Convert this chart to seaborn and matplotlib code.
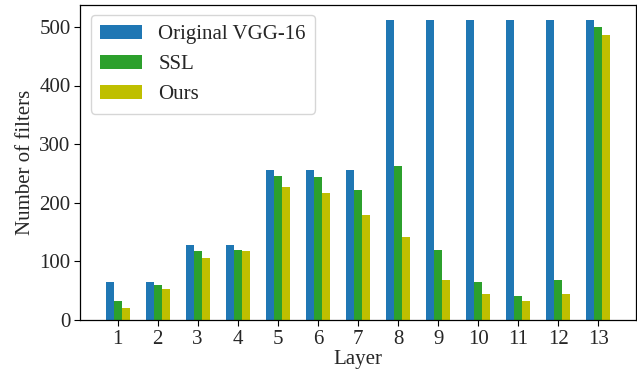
import numpy as np
import pandas as pd
import matplotlib
matplotlib.use("Agg")
import matplotlib.pyplot as plt
import seaborn as sns

# ── Datos ─────────────────────────────────────────────────────────────────────
capas = [str(i) for i in range(1, 14)]
original_vgg16 = [64, 64, 128, 128, 256, 256, 256, 512, 512, 512, 512, 512, 512]
ssl = [32, 60, 117, 120, 246, 243, 222, 263, 120, 65, 41, 68, 500]
ours = [21, 53, 105, 118, 226, 216, 179, 142, 68, 44, 32, 44, 486]
series = ["Original VGG-16", "SSL", "Ours"]

PAL = {"Original VGG-16": "#1f77b4", "SSL": "#2ca02c", "Ours": "#bfbf00"}

df = pd.DataFrame({
    "Layer": capas * 3,
    "filters": original_vgg16 + ssl + ours,
    "serie": np.repeat(series, len(capas)),
})

# ── Figura ────────────────────────────────────────────────────────────────────
sns.set_style("ticks")
plt.rcParams["font.family"] = ["Liberation Serif", "DejaVu Serif"]

fig, ax = plt.subplots(figsize=(6.37, 3.75), dpi=100)
sns.barplot(data=df, x="Layer", y="filters", hue="serie", hue_order=series,
            order=capas, palette=PAL, width=0.6, gap=0, saturation=1,
            ax=ax, edgecolor="none", linewidth=0)

ax.set_xlim(-0.93, 12.93)
ax.set_ylim(0, 537.6)
ax.set_xlabel("Layer", fontsize=15, labelpad=1)
ax.set_ylabel("Number of filters", fontsize=15, labelpad=3)
ax.tick_params(labelsize=15, color="black", length=4, pad=3)
for s in ax.spines.values():
    s.set_color("black")
    s.set_linewidth(0.9)

ax.legend(loc="upper left", fontsize=15, title=None, frameon=True,
          handlelength=2.0, borderpad=0.45, labelspacing=0.5)

fig.subplots_adjust(left=0.126, right=0.998, bottom=0.147, top=0.987)
fig.savefig("out.png", dpi=100)
